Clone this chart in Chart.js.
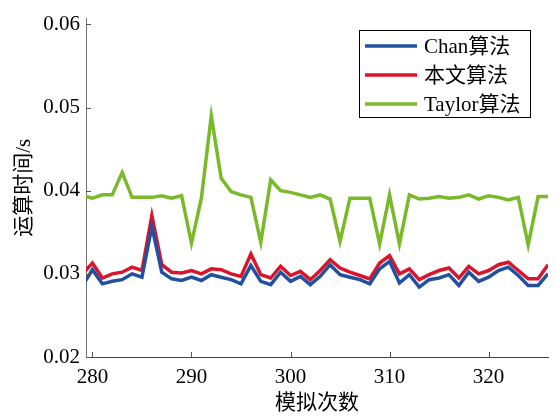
<!DOCTYPE html>
<html lang="zh">
<head>
<meta charset="UTF-8">
<title>运算时间对比</title>
<script src="https://cdn.jsdelivr.net/npm/chart.js"></script>
<style>
  html, body { margin: 0; padding: 0; background: #fff; }
  #wrap { width: 556px; height: 417px; }
</style>
</head>
<body>
<div id="wrap"><canvas id="timeChart" width="556" height="417"></canvas></div>
<script>
// 模拟次数
const runs = [279, 280, 281, 282, 283, 284, 285, 286, 287, 288, 289, 290, 291, 292, 293, 294,
  295, 296, 297, 298, 299, 300, 301, 302, 303, 304, 305, 306, 307, 308, 309, 310,
  311, 312, 313, 314, 315, 316, 317, 318, 319, 320, 321, 322, 323, 324, 325, 326];

// 运算时间/s
const chanTimes = [0.0286, 0.0305, 0.0288, 0.0291, 0.0293, 0.0300, 0.0296, 0.0357, 0.0302, 0.0294, 0.0292, 0.0296, 0.0292, 0.0299, 0.0296, 0.0293,
  0.0288, 0.0310, 0.0291, 0.0287, 0.0302, 0.0291, 0.0297, 0.0287, 0.0297, 0.0311, 0.0299, 0.0296, 0.0293, 0.0288, 0.0306, 0.0315,
  0.0289, 0.0299, 0.0284, 0.0293, 0.0295, 0.0299, 0.0286, 0.0302, 0.0291, 0.0296, 0.0304, 0.0308, 0.0298, 0.0286, 0.0286, 0.0300];
const oursTimes = [0.0300, 0.0313, 0.0295, 0.0300, 0.0302, 0.0308, 0.0304, 0.0370, 0.0311, 0.0302, 0.0301, 0.0304, 0.0300, 0.0306, 0.0305, 0.0300,
  0.0297, 0.0324, 0.0299, 0.0295, 0.0309, 0.0298, 0.0303, 0.0293, 0.0304, 0.0317, 0.0307, 0.0302, 0.0298, 0.0294, 0.0313, 0.0322,
  0.0300, 0.0306, 0.0293, 0.0299, 0.0304, 0.0307, 0.0295, 0.0309, 0.0300, 0.0304, 0.0311, 0.0314, 0.0304, 0.0294, 0.0294, 0.0311];
const taylorTimes = [0.0394, 0.0391, 0.0395, 0.0395, 0.0422, 0.0392, 0.0392, 0.0392, 0.0394, 0.0391, 0.0394, 0.0337, 0.0391, 0.0490, 0.0415, 0.0399,
  0.0395, 0.0392, 0.0338, 0.0413, 0.0400, 0.0398, 0.0395, 0.0392, 0.0395, 0.0390, 0.0339, 0.0391, 0.0391, 0.0391, 0.0336, 0.0395,
  0.0336, 0.0395, 0.0390, 0.0391, 0.0393, 0.0391, 0.0392, 0.0395, 0.0390, 0.0394, 0.0392, 0.0389, 0.0392, 0.0335, 0.0393, 0.0393];

const xTicks = [280, 290, 300, 310, 320];
const yTicks = [0.02, 0.03, 0.04, 0.05, 0.06];

const serif = '"Liberation Serif", "Noto Sans CJK SC", serif';

function toPoints(values) {
  return runs.map((r, i) => ({ x: r, y: values[i] }));
}

// 坐标轴内侧刻度 + 图例框
const decorPlugin = {
  id: 'decor',
  afterDraw(chart) {
    const ctx = chart.ctx;
    const xs = chart.scales.x, ys = chart.scales.y;
    const area = chart.chartArea;
    ctx.save();
    ctx.lineWidth = 1;
    ctx.strokeStyle = '#555';
    xTicks.forEach(v => {
      const px = Math.round(xs.getPixelForValue(v)) + 0.5;
      ctx.beginPath();
      ctx.moveTo(px, area.bottom);
      ctx.lineTo(px, area.bottom - 5);
      ctx.stroke();
    });
    yTicks.forEach(v => {
      const py = Math.round(ys.getPixelForValue(v)) + 0.5;
      ctx.beginPath();
      ctx.moveTo(area.left, py);
      ctx.lineTo(area.left + 5, py);
      ctx.stroke();
    });

    // legend
    const bx = 359.5, by = 30.5, bw = 171, bh = 87;
    ctx.fillStyle = '#fff';
    ctx.fillRect(bx, by, bw, bh);
    ctx.strokeStyle = '#000';
    ctx.strokeRect(bx, by, bw, bh);
    ctx.font = '21px ' + serif;
    ctx.textBaseline = 'middle';
    ctx.textAlign = 'left';
    chart.data.datasets.forEach((ds, i) => {
      const y = 46 + i * 29;
      ctx.strokeStyle = ds.borderColor;
      ctx.lineWidth = 3.5;
      ctx.beginPath();
      ctx.moveTo(365, y);
      ctx.lineTo(417, y);
      ctx.stroke();
      ctx.fillStyle = '#000';
      ctx.fillText(ds.label, 424, y + 1);
    });
    ctx.restore();
  }
};

new Chart(document.getElementById('timeChart'), {
  type: 'line',
  data: {
    datasets: [
      { label: 'Chan算法', data: toPoints(chanTimes), borderColor: '#2150a0', borderWidth: 3.5 },
      { label: '本文算法', data: toPoints(oursTimes), borderColor: '#d9142b', borderWidth: 3.5 },
      { label: 'Taylor算法', data: toPoints(taylorTimes), borderColor: '#79b92a', borderWidth: 3.5 }
    ]
  },
  options: {
    responsive: false,
    animation: false,
    devicePixelRatio: 1,
    elements: { point: { radius: 0 }, line: { tension: 0, borderJoinStyle: 'miter' } },
    layout: { padding: { top: 13, right: 8, left: 0, bottom: 0 } },
    plugins: { legend: { display: false }, tooltip: { enabled: false } },
    scales: {
      x: {
        type: 'linear',
        min: 279.35,
        max: 326,
        afterBuildTicks: s => { s.ticks = xTicks.map(v => ({ value: v })); },
        afterFit: s => { s.height = 60; },
        grid: { display: false, drawTicks: false },
        border: { display: true, color: '#444', width: 1 },
        ticks: { color: '#000', font: { family: serif, size: 21 }, padding: 8, maxRotation: 0 },
        title: { display: true, text: '模拟次数', color: '#000', font: { family: serif, size: 21 }, padding: { top: 0, bottom: 1 } }
      },
      y: {
        min: 0.02,
        max: 0.0607,
        afterBuildTicks: s => { s.ticks = yTicks.map(v => ({ value: v })); },
        afterFit: s => { s.width = 86; },
        grid: { display: false, drawTicks: false },
        border: { display: true, color: '#777', width: 1 },
        ticks: { color: '#000', font: { family: serif, size: 21 }, padding: 6, callback: v => v.toFixed(2) },
        title: { display: true, text: '运算时间/s', color: '#000', font: { family: serif, size: 21 }, padding: { top: 12, bottom: 0 } }
      }
    }
  },
  plugins: [decorPlugin]
});
</script>
</body>
</html>
